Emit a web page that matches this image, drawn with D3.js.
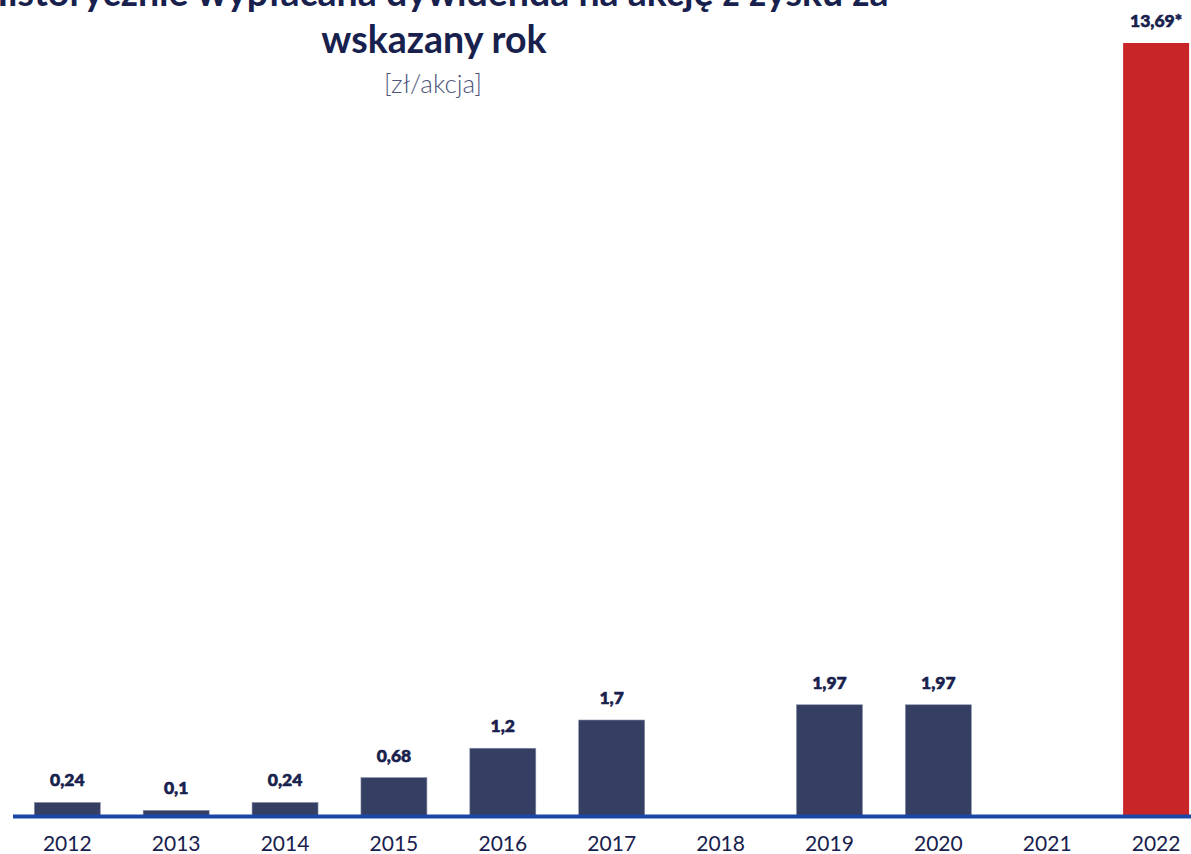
<!DOCTYPE html>
<html>
<head>
<meta charset="utf-8">
<script src="https://cdn.jsdelivr.net/npm/d3@7.9.0/dist/d3.min.js"></script>
<style>
  html, body { margin: 0; padding: 0; background: #fff; }
  svg { display: block; font-family: Lato, 'Open Sans', sans-serif; }
</style>
</head>
<body>
<svg id="chart" width="1191" height="854"></svg>
<script>
const years = ['2012', '2013', '2014', '2015', '2016', '2017', '2018', '2019', '2020', '2021', '2022'];
const dividends = [0.24, 0.1, 0.24, 0.68, 1.2, 1.7, null, 1.97, 1.97, null, 13.69];
const valueLabels = ['0,24', '0,1', '0,24', '0,68', '1,2', '1,7', '', '1,97', '1,97', '', '13,69*'];
const highlightYear = '2022';
const titleLines = ['Historycznie wypłacana dywidenda na akcję z zysku za', 'wskazany rok'];
const unitLabel = '[zł/akcja]';

const svg = d3.select('#chart');
const navy = '#18214d';

const x = d3.scaleBand()
  .domain(years)
  .range([-8.6, 1232])
  .padding(0.394);

const y = d3.scaleLinear()
  .domain([0, 13.69])
  .range([816, 43]);

const rows = years.map((yr, i) => ({ year: yr, value: dividends[i], label: valueLabels[i] }));

// title (first line runs off the top, as in the source)
svg.selectAll('text.title')
  .data(titleLines)
  .join('text')
  .attr('class', 'title')
  .attr('x', 434)
  .attr('y', (d, i) => 6 + i * 47)
  .attr('text-anchor', 'middle')
  .attr('font-size', 37.5)
  .attr('font-weight', 700)
  .attr('fill', navy)
  .text(d => d);

svg.append('text')
  .attr('x', 433)
  .attr('y', 93)
  .attr('text-anchor', 'middle')
  .attr('font-size', 26)
  .attr('font-weight', 300)
  .attr('fill', '#4c5579')
  .text(unitLabel);

// bars
svg.append('g')
  .selectAll('rect')
  .data(rows.filter(d => d.value != null))
  .join('rect')
  .attr('x', d => x(d.year))
  .attr('width', x.bandwidth())
  .attr('y', d => y(d.value))
  .attr('height', d => y(0) - y(d.value))
  .attr('fill', d => d.year === highlightYear ? '#c82528' : '#353f63')
  .attr('stroke', d => d.year === highlightYear ? 'none' : '#8a90a8')
  .attr('stroke-width', 0.6);

// value labels
svg.append('g')
  .selectAll('text')
  .data(rows.filter(d => d.value != null))
  .join('text')
  .attr('x', d => x(d.year) + x.bandwidth() / 2)
  .attr('y', d => y(d.value) - 16)
  .attr('text-anchor', 'middle')
  .attr('font-size', 17.5)
  .attr('font-weight', 900)
  .attr('fill', navy)
  .attr('stroke', navy)
  .attr('stroke-width', 0.6)
  .text(d => d.label);

// axis
const axis = svg.append('g')
  .attr('transform', `translate(0,${y(0)})`)
  .call(d3.axisBottom(x).tickSize(0).tickPadding(20));
axis.select('.domain').remove();
axis.selectAll('text')
  .attr('font-size', 21)
  .attr('font-family', 'Lato, sans-serif')
  .attr('fill', navy)
  .attr('dy', '0.71em');

svg.append('line')
  .attr('x1', 13)
  .attr('x2', 1191)
  .attr('y1', 816.5)
  .attr('y2', 816.5)
  .attr('stroke', '#1a47a8')
  .attr('stroke-width', 4);
</script>
</body>
</html>
